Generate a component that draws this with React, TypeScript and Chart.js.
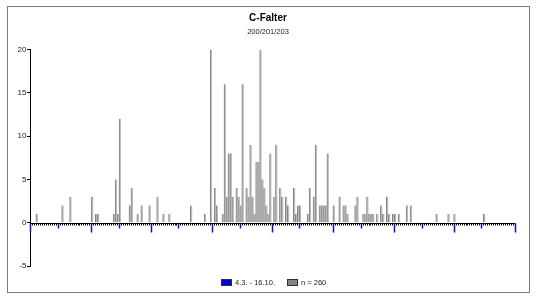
import { useEffect, useRef } from "react";
import { Chart, registerables } from "chart.js";

Chart.register(...registerables);

const TITLE = "C-Falter";
const SUBTITLE = "200/201/203";
const PERIOD_LABEL = "4.3. - 16.10.";
const SERIES_LABEL = "n = 260";

// season shown on the x axis: 1 March .. 31 October (months 3..10)
const seasonMonths = [3, 4, 5, 6, 7, 8, 9, 10];
const monthLengths = [31, 30, 31, 30, 31, 31, 30, 31];

const obsDates = [
  "4.3.", "17.3.", "21.3.", "1.4.", "3.4.", "4.4.", "12.4.", "13.4.", "14.4.", "15.4.",
  "20.4.", "21.4.", "24.4.", "26.4.", "30.4.", "4.5.", "7.5.", "10.5.", "21.5.", "28.5.",
  "31.5.", "2.6.", "3.6.", "6.6.", "7.6.", "8.6.", "9.6.", "10.6.", "11.6.", "13.6.",
  "14.6.", "15.6.", "16.6.", "18.6.", "19.6.", "20.6.", "21.6.", "22.6.", "23.6.", "24.6.",
  "25.6.", "26.6.", "27.6.", "28.6.", "29.6.", "30.6.", "2.7.", "3.7.", "5.7.", "6.7.",
  "8.7.", "9.7.", "12.7.", "13.7.", "14.7.", "15.7.", "19.7.", "20.7.", "22.7.", "23.7.",
  "25.7.", "26.7.", "27.7.", "28.7.", "29.7.", "1.8.", "4.8.", "6.8.", "7.8.", "8.8.",
  "12.8.", "13.8.", "16.8.", "17.8.", "18.8.", "19.8.", "20.8.", "21.8.", "23.8.", "25.8.",
  "26.8.", "28.8.", "29.8.", "31.8.", "1.9.", "3.9.", "7.9.", "9.9.", "22.9.", "28.9.",
  "1.10.", "16.10.",
];
const obsCounts = [
  1, 2, 3, 3, 1, 1, 1, 5, 1, 12,
  2, 4, 1, 2, 2, 3, 1, 1, 2, 1,
  20, 4, 2, 1, 16, 3, 8, 8, 3, 4,
  3, 2, 16, 4, 3, 9, 3, 1, 7, 7,
  20, 5, 4, 2, 1, 8, 3, 9, 4, 3,
  3, 2, 4, 1, 2, 2, 1, 4, 3, 9,
  2, 2, 2, 2, 8, 2, 3, 2, 2, 1,
  2, 3, 1, 1, 3, 1, 1, 1, 1, 2,
  1, 3, 1, 1, 1, 1, 2, 2, 1, 1,
  1, 1,
];
const yTicks = [-5, 0, 5, 10, 15, 20];

const categories: string[] = [];
seasonMonths.forEach((m, mi) => {
  for (let d = 1; d <= monthLengths[mi]; d++) categories.push(`${d}.${m}.`);
});
const seriesData = categories.map((c) => {
  const i = obsDates.indexOf(c);
  return i >= 0 ? obsCounts[i] : null;
});

const FONT = '"Liberation Sans", Arial, sans-serif';

const decorPlugin = {
  id: "decor",
  beforeDraw(chart: any) {
    const { ctx, width, height } = chart;
    ctx.save();
    ctx.fillStyle = "#ffffff";
    ctx.fillRect(0, 0, width, height);
    ctx.strokeStyle = "#7c7c7c";
    ctx.lineWidth = 1;
    ctx.strokeRect(7.5, 6.5, 522, 286);
    ctx.fillStyle = "#000";
    ctx.textAlign = "center";
    ctx.textBaseline = "middle";
    ctx.font = `bold 10px ${FONT}`;
    ctx.fillText(TITLE, 268, 18);
    ctx.font = `7.5px ${FONT}`;
    ctx.fillStyle = "#222";
    ctx.fillText(SUBTITLE, 268, 32);
    ctx.restore();
  },
  afterDatasetsDraw(chart: any) {
    const { ctx } = chart;
    const xs = chart.scales.x;
    const ys = chart.scales.y;
    const y0 = Math.round(ys.getPixelForValue(0)) + 0.5;
    const n = categories.length;
    const step = xs.getPixelForValue(1) - xs.getPixelForValue(0);
    const boundary = (i: number) => Math.round(xs.getPixelForValue(i) - step / 2) + 0.5;
    ctx.save();
    ctx.strokeStyle = "#000";
    ctx.lineWidth = 1;
    ctx.beginPath();
    ctx.moveTo(xs.left, y0);
    ctx.lineTo(xs.right, y0);
    ctx.stroke();
    ctx.beginPath();
    for (let i = 0; i <= n; i++) {
      const px = boundary(i);
      ctx.moveTo(px, y0);
      ctx.lineTo(px, y0 + 2);
    }
    ctx.stroke();
    ctx.strokeStyle = "#1010b8";
    ctx.lineWidth = 1.5;
    ctx.beginPath();
    for (let i = 0; i <= n; i++) {
      const day = i < n ? parseInt(categories[i], 10) : 1;
      if (day === 1 || day === 15) {
        const px = boundary(i);
        ctx.moveTo(px, y0);
        ctx.lineTo(px, y0 + (day === 1 ? 9 : 5));
      }
    }
    ctx.stroke();
    ctx.restore();
  },
  afterDraw(chart: any) {
    const { ctx } = chart;
    ctx.save();
    ctx.font = `7.5px ${FONT}`;
    ctx.textBaseline = "middle";
    ctx.textAlign = "left";
    let x = 221;
    const y = 279;
    chart.data.datasets.forEach((ds: any) => {
      ctx.fillStyle = ds.legendColor;
      ctx.fillRect(x, y, 11, 7);
      ctx.strokeStyle = "#303030";
      ctx.lineWidth = 1;
      ctx.strokeRect(x + 0.5, y + 0.5, 10, 6);
      ctx.fillStyle = "#222";
      ctx.fillText(ds.label, x + 14, y + 4);
      x += 14 + ctx.measureText(ds.label).width + 12;
    });
    ctx.restore();
  },
};

export default function App() {
  const ref = useRef<HTMLCanvasElement>(null);
  useEffect(() => {
    document.body.style.margin = "0";
    const chart = new Chart(ref.current!, {
      type: "bar",
      data: {
        labels: categories,
        datasets: [
          {
            label: PERIOD_LABEL,
            data: categories.map(() => null),
            backgroundColor: "#0000ff",
            legendColor: "#0000f0",
            grouped: false,
          } as any,
          {
            label: SERIES_LABEL,
            data: seriesData,
            backgroundColor: "#bdbdbd",
            borderColor: "#808080",
            borderWidth: { left: 1, top: 0, right: 0, bottom: 0 },
            legendColor: "#858585",
            grouped: false,
            barPercentage: 1,
            categoryPercentage: 1,
          } as any,
        ],
      },
      options: {
        animation: false,
        responsive: false,
        devicePixelRatio: 1,
        layout: { padding: { left: 0, right: 22, top: 49.5, bottom: 35 } },
        plugins: {
          legend: { display: false },
          title: { display: false },
          tooltip: { enabled: false },
        },
        scales: {
          x: { display: false },
          y: {
            min: -5,
            max: 20,
            afterBuildTicks: (s: any) => {
              s.ticks = yTicks.map((v) => ({ value: v }));
            },
            afterFit: (s: any) => {
              s.width = 30;
            },
            grid: { drawOnChartArea: false, drawTicks: true, tickLength: 3, color: "#000" },
            border: { display: true, color: "#000", width: 1 },
            ticks: {
              padding: 0.5,
              color: "#222",
              font: { family: FONT, size: 8 },
            },
          },
        },
      },
      plugins: [decorPlugin],
    });
    return () => chart.destroy();
  }, []);
  return (
    <div style={{ width: 537, height: 301 }}>
      <canvas ref={ref} width={537} height={301} style={{ display: "block" }} />
    </div>
  );
}
